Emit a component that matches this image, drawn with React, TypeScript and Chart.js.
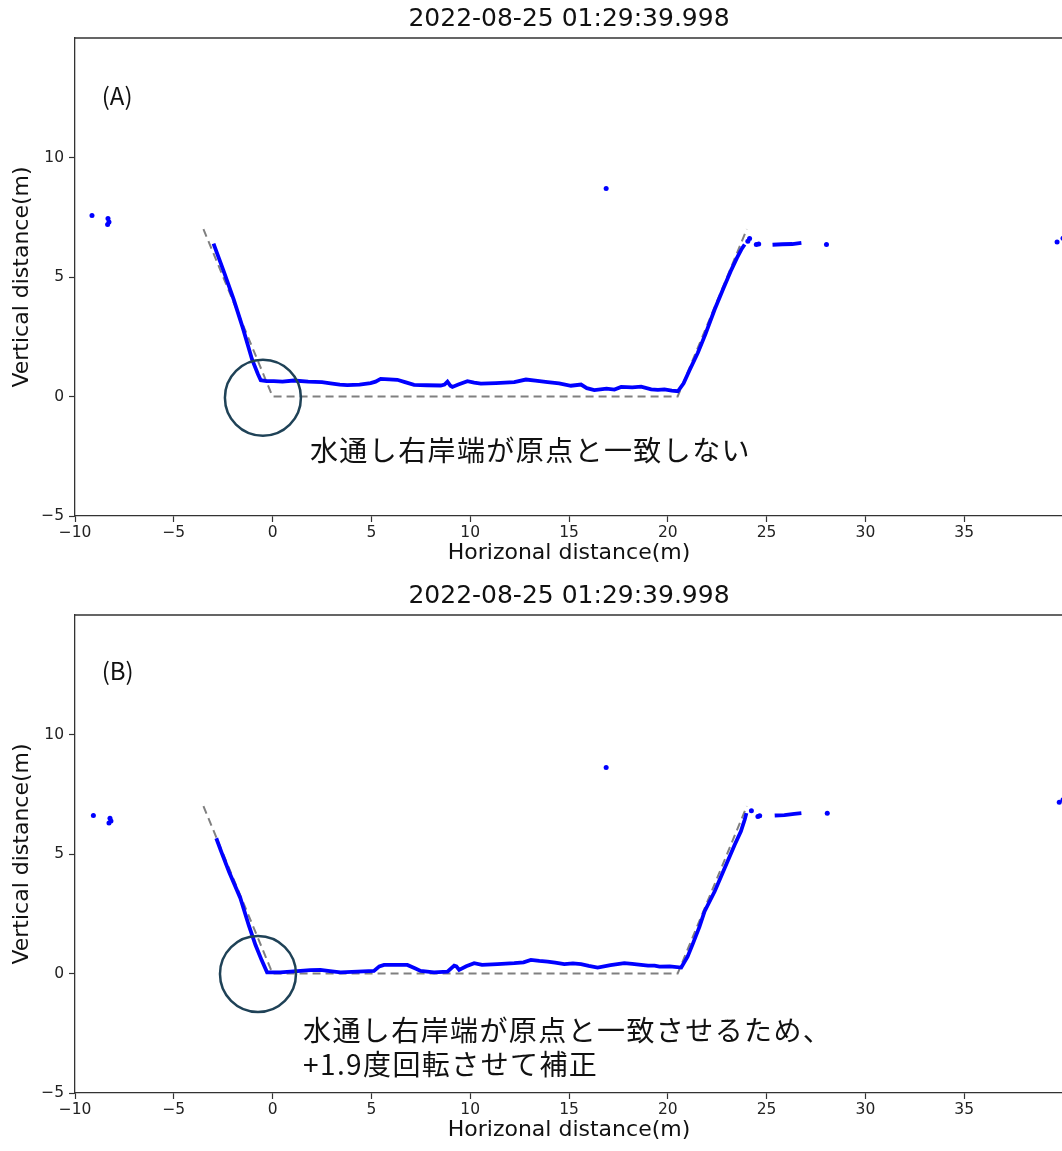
import React, { useEffect, useRef } from 'react';
import { Chart, registerables } from 'chart.js';

Chart.register(...registerables);

// ---------- shared labels / ticks ----------
const TITLE = '2022-08-25 01:29:39.998';
const X_LABEL = 'Horizonal distance(m)';
const Y_LABEL = 'Vertical distance(m)';
const X_TICKS = [-10, -5, 0, 5, 10, 15, 20, 25, 30, 35];
const Y_TICKS = [-5, 0, 5, 10];
const X_MIN = -10;
const X_MAX = 40;
const Y_MIN = -5;
const Y_MAX = 15;

// ---------- design cross-section (dashed) ----------
const designX = [-3.5, 0, 20.5, 24];
const designY = [7, 0, 0, 7];

// ---------- panel A : measured profile ----------
const profileA_X = [-2.99, -2.5, -1.97, -1.5, -1.04, -0.75, -0.6, -0.3, 0.06, 0.5, 1.07, 1.8, 2.5, 2.93, 3.4, 3.78, 4.4, 4.96, 5.21, 5.47, 5.9, 6.31, 6.7, 7.16, 7.8, 8.51, 8.7, 8.85, 9.0, 9.1, 9.4, 9.86, 10.2, 10.54, 11.3, 12.23, 12.82, 13.3, 13.92, 14.5, 15.1, 15.61, 15.9, 16.28, 16.9, 17.3, 17.64, 18.2, 18.65, 19.16, 19.5, 19.83, 20.2, 20.51, 20.8, 21.1, 21.52, 21.9, 22.37, 22.8, 23.22, 23.5, 23.72, 23.89];
const profileA_Y = [6.4, 5.3, 4.06, 2.85, 1.55, 0.95, 0.68, 0.64, 0.64, 0.62, 0.67, 0.62, 0.6, 0.55, 0.5, 0.48, 0.5, 0.56, 0.62, 0.74, 0.72, 0.7, 0.6, 0.49, 0.47, 0.46, 0.5, 0.62, 0.45, 0.4, 0.5, 0.64, 0.58, 0.54, 0.56, 0.6, 0.71, 0.66, 0.6, 0.55, 0.45, 0.5, 0.35, 0.27, 0.33, 0.29, 0.4, 0.38, 0.41, 0.3, 0.28, 0.3, 0.25, 0.22, 0.55, 1.1, 1.83, 2.6, 3.64, 4.5, 5.31, 5.8, 6.15, 6.36];
const shelfA_X = [25.3, 25.8, 26.3, 26.76];
const shelfA_Y = [6.35, 6.37, 6.38, 6.43];
const dotsA_X = [-9.14, -8.33, -8.28, -8.35, 16.88, 24.05, 24.14, 24.48, 24.6, 28.03, 39.7, 40.0];
const dotsA_Y = [7.57, 7.45, 7.3, 7.2, 8.7, 6.5, 6.61, 6.36, 6.38, 6.36, 6.46, 6.62];

// ---------- panel B : rotated profile ----------
const profileB_X = [-2.85, -2.6, -2.2, -1.63, -1.2, -0.87, -0.55, -0.28, 0.0, 0.4, 0.9, 1.41, 1.9, 2.42, 2.9, 3.44, 4.3, 5.13, 5.4, 5.64, 6.2, 6.82, 7.2, 7.49, 8.17, 8.85, 9.19, 9.3, 9.44, 9.8, 10.2, 10.6, 11.38, 12.23, 12.7, 13.07, 13.5, 13.92, 14.3, 14.76, 15.2, 15.61, 16.0, 16.45, 17.1, 17.8, 18.2, 18.65, 19.0, 19.33, 19.58, 20.1, 20.68, 21.0, 21.27, 21.6, 21.86, 22.37, 22.88, 23.38, 23.7, 23.89, 23.98];
const profileB_Y = [5.66, 5.1, 4.25, 3.15, 2.0, 1.2, 0.55, 0.05, 0.05, 0.05, 0.08, 0.11, 0.14, 0.15, 0.1, 0.05, 0.08, 0.11, 0.3, 0.36, 0.36, 0.36, 0.22, 0.11, 0.05, 0.08, 0.33, 0.3, 0.15, 0.3, 0.43, 0.36, 0.39, 0.43, 0.47, 0.57, 0.53, 0.5, 0.45, 0.39, 0.42, 0.39, 0.32, 0.25, 0.35, 0.43, 0.4, 0.36, 0.33, 0.33, 0.29, 0.3, 0.25, 0.7, 1.25, 1.95, 2.6, 3.43, 4.41, 5.38, 5.95, 6.43, 6.71];
const shelfB_X = [25.41, 25.9, 26.4, 26.76];
const shelfB_Y = [6.61, 6.63, 6.68, 6.71];
const dotsB_X = [-9.07, -8.23, -8.18, -8.28, 16.88, 24.23, 24.56, 24.65, 28.07, 39.81, 40.0];
const dotsB_Y = [6.61, 6.5, 6.38, 6.3, 8.62, 6.81, 6.57, 6.6, 6.71, 7.17, 7.27];

// ---------- annotations ----------
const PANEL_A = '(A)';
const PANEL_B = '(B)';
const NOTE_A = ['水通し右岸端が原点と一致しない'];
const NOTE_B = ['水通し右岸端が原点と一致させるため、', '+1.9度回転させて補正'];

const zip = (xs: number[], ys: number[]) => xs.map((x, i) => ({ x, y: ys[i] }));
const fmt = (v: number) => (v < 0 ? '\u2212' + Math.abs(v) : String(v));

const overlayPlugin = {
  id: 'overlay',
  afterDraw(chart: any, _args: any, opts: any) {
    const { ctx, chartArea: a, scales } = chart;
    const xs = scales.x;
    const ys = scales.y;
    ctx.save();
    // top / right spines
    ctx.strokeStyle = '#333';
    ctx.lineWidth = 1.3;
    ctx.beginPath();
    ctx.moveTo(a.left, a.top);
    ctx.lineTo(a.right, a.top);
    ctx.lineTo(a.right, a.bottom);
    ctx.stroke();

    ctx.fillStyle = '#111';
    ctx.textAlign = 'center';
    ctx.textBaseline = 'middle';
    ctx.font = '25px "DejaVu Sans"';
    ctx.fillText(opts.title, (a.left + a.right) / 2, a.top - 19);
    ctx.font = '22px "DejaVu Sans"';
    ctx.fillText(opts.xLabel, (a.left + a.right) / 2, a.bottom + 37);
    ctx.save();
    ctx.translate(22, (a.top + a.bottom) / 2);
    ctx.rotate(-Math.PI / 2);
    ctx.fillText(opts.yLabel, 0, 0);
    ctx.restore();

    // circle
    ctx.strokeStyle = '#1f4257';
    ctx.lineWidth = 2.5;
    ctx.beginPath();
    ctx.arc(xs.getPixelForValue(opts.circle.x), ys.getPixelForValue(opts.circle.y), opts.circle.r, 0, Math.PI * 2);
    ctx.stroke();

    // panel label
    ctx.textAlign = 'left';
    ctx.fillStyle = '#111';
    ctx.font = '24px "Noto Sans CJK JP"';
    ctx.fillText(opts.panel, xs.getPixelForValue(opts.panelPos.x), ys.getPixelForValue(opts.panelPos.y));

    // notes
    ctx.font = '28px "Noto Sans CJK JP"';
    try {
      (ctx as any).letterSpacing = '1.4px';
    } catch (e) {
      /* ignore */
    }
    opts.notes.forEach((t: string, i: number) => {
      const px = xs.getPixelForValue(opts.notePos.x);
      const py = ys.getPixelForValue(opts.notePos.y) + i * 34;
      ctx.fillText(t, px, py);
    });
    try {
      (ctx as any).letterSpacing = '0px';
    } catch (e) {
      /* ignore */
    }
    ctx.restore();
  },
};

function makeConfig(
  profile: { x: number; y: number }[],
  shelf: { x: number; y: number }[],
  dots: { x: number; y: number }[],
  overlay: any
): any {
  const tickFont = { family: 'DejaVu Sans', size: 15.5 };
  return {
    type: 'scatter',
    data: {
      datasets: [
        { data: profile, showLine: true, borderColor: '#0000ff', borderWidth: 3.8, pointRadius: 0, tension: 0 },
        { data: shelf, showLine: true, borderColor: '#0000ff', borderWidth: 3.8, pointRadius: 0, tension: 0 },
        { data: dots, showLine: false, pointRadius: 2.5, backgroundColor: '#0000ff', borderWidth: 0 },
        {
          data: zip(designX, designY),
          showLine: true,
          borderColor: '#808080',
          borderWidth: 2,
          borderDash: [8, 5],
          pointRadius: 0,
          tension: 0,
        },
      ],
    },
    options: {
      responsive: false,
      animation: false,
      devicePixelRatio: 1,
      layout: { padding: { top: 38, left: 0, right: 7, bottom: 0 } },
      plugins: { legend: { display: false }, tooltip: { enabled: false }, overlay },
      scales: {
        x: {
          type: 'linear',
          min: X_MIN,
          max: X_MAX,
          afterBuildTicks: (s: any) => {
            s.ticks = X_TICKS.map((v) => ({ value: v }));
          },
          afterFit: (s: any) => {
            s.height = 59;
            s.paddingLeft = 0;
            s.paddingRight = 0;
          },
          grid: { display: true, drawOnChartArea: false, drawTicks: true, tickLength: 6, tickColor: '#333', tickWidth: 1.2 },
          border: { display: true, color: '#333', width: 1.3 },
          ticks: { font: tickFont, color: '#222', padding: 2, maxRotation: 0, autoSkip: false, callback: (v: number) => fmt(v) },
        },
        y: {
          type: 'linear',
          min: Y_MIN,
          max: Y_MAX,
          afterBuildTicks: (s: any) => {
            s.ticks = Y_TICKS.map((v) => ({ value: v }));
          },
          afterFit: (s: any) => {
            s.width = 75;
            s.paddingTop = 0;
            s.paddingBottom = 0;
          },
          grid: { display: true, drawOnChartArea: false, drawTicks: true, tickLength: 6, tickColor: '#333', tickWidth: 1.2 },
          border: { display: true, color: '#333', width: 1.3 },
          ticks: { font: tickFont, color: '#222', padding: 5, autoSkip: false, callback: (v: number) => fmt(v) },
        },
      },
    },
    plugins: [overlayPlugin],
  };
}

function Panel(props: { top: number; config: any }) {
  const ref = useRef<HTMLCanvasElement | null>(null);
  useEffect(() => {
    if (!ref.current) return;
    const chart = new Chart(ref.current, props.config);
    return () => chart.destroy();
  }, []);
  return (
    <div style={{ position: 'absolute', left: 0, top: props.top, width: 1070, height: 575 }}>
      <canvas ref={ref} width={1070} height={575} style={{ display: 'block' }} />
    </div>
  );
}

export default function App() {
  const cfgA = makeConfig(zip(profileA_X, profileA_Y), zip(shelfA_X, shelfA_Y), zip(dotsA_X, dotsA_Y), {
    title: TITLE,
    xLabel: X_LABEL,
    yLabel: Y_LABEL,
    circle: { x: -0.49, y: -0.05, r: 38 },
    panel: PANEL_A,
    panelPos: { x: -8.65, y: 12.58 },
    notes: NOTE_A,
    notePos: { x: 1.89, y: -2.27 },
  });
  const cfgB = makeConfig(zip(profileB_X, profileB_Y), zip(shelfB_X, shelfB_Y), zip(dotsB_X, dotsB_Y), {
    title: TITLE,
    xLabel: X_LABEL,
    yLabel: Y_LABEL,
    circle: { x: -0.74, y: -0.02, r: 38 },
    panel: PANEL_B,
    panelPos: { x: -8.65, y: 12.66 },
    notes: NOTE_B,
    notePos: { x: 1.54, y: -2.36 },
  });
  return (
    <div
      style={{
        position: 'absolute',
        left: 0,
        top: 0,
        width: 1062,
        height: 1151,
        overflow: 'hidden',
        background: '#ffffff',
      }}
    >
      <Panel top={0} config={cfgA} />
      <Panel top={577} config={cfgB} />
    </div>
  );
}
